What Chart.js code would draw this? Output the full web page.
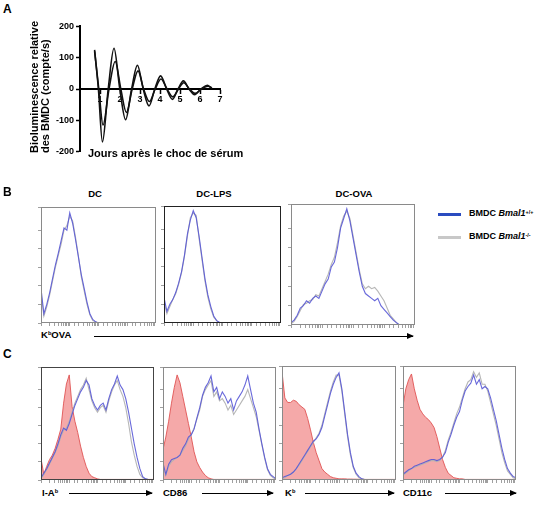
<!DOCTYPE html>
<html>
<head>
<meta charset="utf-8">
<script src="https://cdn.jsdelivr.net/npm/chart.js@4.4.1/dist/chart.umd.min.js"></script>
<style>
  body { margin: 0; background: #fff; font-family: "Liberation Sans", Arial, sans-serif; color: #000; }
  #page { position: relative; width: 551px; height: 508px; overflow: hidden; }
  canvas { position: absolute; }
  .lbl { position: absolute; font-weight: bold; white-space: nowrap; line-height: 1; }
  .lbl sup { font-size: 60%; vertical-align: 0.45em; }
  .panel { font-size: 12px; }
  .title { font-size: 9.5px; width: 60px; text-align: center; }
  .arrow { position: absolute; height: 0; border-top: 1.5px solid #000; }
  .arrow:after { content: ""; position: absolute; right: -1px; top: -4.5px; border-left: 7px solid #000; border-top: 3.5px solid transparent; border-bottom: 3.5px solid transparent; }
  .key { position: absolute; width: 23px; height: 2.5px; }
</style>
</head>
<body>
<div id="page">
  <!-- panel A -->
  <div class="lbl panel" style="left:3px;top:3px;">A</div>
  <canvas id="chartA" width="180" height="140" style="left:50px;top:19px;"></canvas>
  <div class="lbl" style="left:29px;top:153px;font-size:11px;line-height:11px;transform:rotate(-90deg);transform-origin:left top;">Bioluminescence relative<br>des BMDC (compte/s)</div>
  <div class="lbl" style="left:88px;top:148px;font-size:11px;">Jours après le choc de sérum</div>

  <!-- panel B -->
  <div class="lbl panel" style="left:3px;top:186px;">B</div>
  <div class="lbl title" style="left:65px;top:189px;">DC</div>
  <div class="lbl title" style="left:184px;top:189px;">DC-LPS</div>
  <div class="lbl title" style="left:324px;top:189px;">DC-OVA</div>
  <canvas id="bDC" width="118" height="119" style="left:38px;top:207px;"></canvas>
  <canvas id="bLPS" width="120" height="120" style="left:161px;top:206px;"></canvas>
  <canvas id="bOVA" width="127" height="124" style="left:288px;top:204px;"></canvas>
  <div class="key" style="left:438px;top:213px;background:#2a4cc0;"></div>
  <div class="lbl" style="left:469px;top:209px;font-size:9px;">BMDC <i>Bmal1</i><sup>+/+</sup></div>
  <div class="key" style="left:438px;top:236px;background:#c8c8c8;"></div>
  <div class="lbl" style="left:469px;top:232px;font-size:9px;">BMDC <i>Bmal1</i><sup>-/-</sup></div>
  <div class="lbl" style="left:41px;top:330px;font-size:9.5px;">K<sup>b</sup>OVA</div>
  <div class="arrow" style="left:94px;top:336px;width:319px;"></div>

  <!-- panel C -->
  <div class="lbl panel" style="left:3px;top:348px;">C</div>
  <canvas id="cIA" width="116" height="116" style="left:38px;top:367px;"></canvas>
  <canvas id="cCD86" width="116" height="116" style="left:160px;top:367px;"></canvas>
  <canvas id="cKb" width="117" height="117" style="left:279px;top:366px;"></canvas>
  <canvas id="cCD11c" width="116" height="117" style="left:400px;top:366px;"></canvas>
  <div class="lbl" style="left:42px;top:488px;font-size:9.5px;">I-A<sup>b</sup></div>
  <div class="arrow" style="left:69px;top:493px;width:83px;"></div>
  <div class="lbl" style="left:163px;top:488px;font-size:9.5px;">CD86</div>
  <div class="arrow" style="left:202px;top:493px;width:71px;"></div>
  <div class="lbl" style="left:285px;top:488px;font-size:9.5px;">K<sup>b</sup></div>
  <div class="arrow" style="left:305px;top:493px;width:89px;"></div>
  <div class="lbl" style="left:403px;top:488px;font-size:9.5px;">CD11c</div>
  <div class="arrow" style="left:445px;top:493px;width:71px;"></div>
</div>

<script>
// panel A: bioluminescence after serum shock (two traces)
const daysBig = [0.73, 0.92, 1.12, 1.41, 1.70, 1.99, 2.28, 2.58, 2.87, 3.16, 3.45, 3.74, 4.03, 4.33, 4.62, 4.90, 5.17, 5.45, 5.73, 6.05, 6.37, 6.55];
const lumBig = [125, 0, -169, 0, 130, 0, -98, 0, 76, 0, -54, 0, 42, 0, -33, 0, 26, 0, -18, 0, 12, 4];
const daysSmall = [0.73, 0.94, 1.15, 1.45, 1.76, 2.04, 2.32, 2.61, 2.90, 3.18, 3.47, 3.76, 4.05, 4.35, 4.64, 4.92, 5.19, 5.47, 5.75, 6.07, 6.40, 6.60];
const lumSmall = [120, 0, -115, 0, 88, 0, -75, 0, 58, 0, -40, 0, 32, 0, -25, 0, 20, 0, -14, 0, 9, 3];
const yTicksA = [-200, -100, 0, 100, 200];
const xTicksA = [1, 2, 3, 4, 5, 6, 7];

// histogram channel, in decades (10^0 .. 10^4)
const decades = [0, 0.1, 0.2, 0.3, 0.4, 0.5, 0.6, 0.7, 0.8, 0.9, 1.0, 1.1, 1.2, 1.3, 1.4, 1.5, 1.6, 1.7, 1.8, 1.9, 2.0,
                 2.1, 2.2, 2.3, 2.4, 2.5, 2.6, 2.7, 2.8, 2.9, 3.0, 3.1, 3.2, 3.3, 3.4, 3.5, 3.6, 3.7, 3.8, 3.9, 4.0];

// panel B: KbOVA
const dcWT  = [30, 8, 16, 26, 38, 50, 60, 71, 82, 80, 95, 86, 72, 57, 42, 30, 18, 8, 3, 1, 0, 0, 0, 0, 0, 0, 0, 0, 0, 0, 0, 0, 0, 0, 0, 0, 0, 0, 0, 0, 0];
const dcKO  = [26, 6, 14, 24, 36, 48, 58, 68, 80, 84, 92, 88, 74, 58, 40, 28, 16, 7, 2, 1, 0, 0, 0, 0, 0, 0, 0, 0, 0, 0, 0, 0, 0, 0, 0, 0, 0, 0, 0, 0, 0];
const lpsWT = [22, 10, 16, 20, 26, 34, 44, 58, 76, 88, 96, 90, 74, 56, 38, 24, 14, 6, 2, 0.5, 0, 0, 0, 0, 0, 0, 0, 0, 0, 0, 0, 0, 0, 0, 0, 0, 0, 0, 0, 0, 0];
const lpsKO = [18, 8, 14, 20, 25, 33, 43, 57, 74, 90, 94, 92, 72, 54, 36, 22, 12, 5, 2, 0.5, 0, 0, 0, 0, 0, 0, 0, 0, 0, 0, 0, 0, 0, 0, 0, 0, 0, 0, 0, 0, 0];
const ovaWT = [2, 4, 8, 14, 16, 20, 18, 22, 24, 22, 28, 34, 38, 48, 52, 64, 80, 88, 96, 86, 72, 58, 44, 32, 26, 24, 22, 20, 22, 16, 13, 10, 7, 4, 2, 0, 0, 0, 0, 0, 0];
const ovaKO = [1, 3, 7, 12, 17, 18, 20, 21, 25, 24, 30, 36, 42, 50, 56, 68, 82, 90, 94, 88, 74, 60, 46, 34, 30, 32, 30, 31, 28, 24, 20, 14, 8, 5, 2, 0, 0, 0, 0, 0, 0];

// panel C: surface markers (isotype in red)
const iaIso = [19, 5, 12, 18, 22, 28, 36, 45, 68, 85, 93, 65, 52, 42, 30, 20, 12, 6, 3, 2, 1, 0.5, 0.5, 0.5, 0.5, 0.5, 0.5, 0.5, 0.5, 0.5, 0.5, 0.5, 0.5, 0.5, 0.5, 0.5, 0.5, 0.5, 0.5, 0.5, 0.5];
const iaWT  = [2, 6, 10, 15, 20, 25, 32, 40, 46, 44, 50, 58, 66, 72, 78, 82, 88, 84, 72, 66, 62, 66, 68, 62, 72, 80, 85, 92, 84, 80, 72, 60, 46, 32, 20, 10, 3, 1, 0.5, 0.5, 0.5];
const iaKO  = [1, 5, 9, 14, 19, 24, 30, 38, 44, 46, 52, 60, 68, 74, 80, 84, 90, 80, 70, 64, 60, 64, 66, 60, 70, 78, 84, 88, 80, 74, 64, 50, 34, 22, 12, 5, 2, 1, 0.5, 0.5, 0.5];
const cd86Iso = [27, 38, 52, 68, 82, 93, 86, 74, 62, 50, 38, 25, 16, 11, 7, 4, 2, 1, 0.5, 0.5, 0.5, 0.5, 0.5, 0.5, 0.5, 0.5, 0.5, 0.5, 0.5, 0.5, 0.5, 0.5, 0.5, 0.5, 0.5, 0.5, 0.5, 0.5, 0.5, 0.5, 0.5];
const cd86WT  = [15, 5, 14, 18, 19, 20, 22, 28, 32, 38, 40, 45, 55, 64, 75, 82, 86, 92, 78, 82, 72, 78, 74, 68, 72, 62, 70, 74, 78, 84, 92, 80, 68, 60, 45, 32, 20, 10, 5, 3, 1];
const cd86KO  = [12, 4, 12, 16, 18, 20, 22, 26, 30, 36, 40, 46, 54, 62, 74, 80, 84, 88, 74, 78, 70, 72, 68, 62, 66, 58, 62, 66, 70, 74, 80, 72, 64, 56, 44, 31, 19, 9, 4, 2, 1];
const kbIso = [95, 72, 68, 68, 70, 69, 66, 64, 62, 54, 44, 33, 24, 17, 10, 7, 5, 3, 2, 1.5, 1, 1, 1, 0.8, 0.8, 0.7, 0.7, 0.6, 0.6, 0.5, 0.5, 0.5, 0.5, 0.5, 0.5, 0.5, 0.5, 0.5, 0.5, 0.5, 0.5];
const kbWT  = [2, 3, 4, 5, 7, 10, 14, 18, 22, 26, 30, 34, 36, 40, 46, 56, 66, 76, 84, 90, 94, 80, 60, 40, 24, 12, 6, 3, 1, 0.5, 0.5, 0.5, 0.5, 0.5, 0.5, 0.5, 0.5, 0.5, 0.5, 0.5, 0.5];
const kbKO  = [1, 2, 4, 5, 7, 10, 13, 17, 21, 25, 29, 33, 37, 41, 48, 58, 68, 78, 86, 92, 92, 78, 58, 38, 22, 11, 5, 2, 1, 0.5, 0.5, 0.5, 0.5, 0.5, 0.5, 0.5, 0.5, 0.5, 0.5, 0.5, 0.5];
const cd11cIso = [65, 80, 88, 93, 80, 70, 62, 58, 55, 53, 50, 46, 38, 28, 18, 11, 6, 4, 2, 1.5, 1, 1, 0.5, 0.5, 0.5, 0.5, 0.5, 0.5, 0.5, 0.5, 0.5, 0.5, 0.5, 0.5, 0.5, 0.5, 0.5, 0.5, 0.5, 0.5, 0.5];
const cd11cWT  = [5, 7, 9, 10, 12, 13, 14, 15, 16, 17, 18, 18, 17, 18, 20, 24, 33, 40, 48, 55, 60, 70, 78, 82, 85, 92, 84, 88, 80, 82, 80, 72, 62, 52, 40, 28, 18, 10, 6, 3, 2];
const cd11cKO  = [4, 6, 8, 10, 11, 12, 13, 14, 15, 16, 17, 17, 16, 17, 20, 26, 35, 42, 50, 58, 64, 72, 80, 86, 88, 95, 90, 94, 84, 84, 78, 68, 58, 48, 36, 24, 15, 8, 5, 2, 1];

const FONT = '"Liberation Sans", Arial, sans-serif';
const BLUE = 'rgba(88,88,214,0.9)';
const GRAY = 'rgba(178,178,178,0.95)';
const RED_FILL = 'rgba(238,112,112,0.6)';
const RED_LINE = 'rgba(224,84,84,0.9)';

// frame around each histogram
const boxBorder = {
    id: 'boxBorder',
    afterDatasetsDraw(chart, args, opts) {
        const { ctx, chartArea } = chart;
        ctx.save();
        ctx.strokeStyle = opts.color;
        ctx.lineWidth = 1;
        ctx.strokeRect(chartArea.left + 0.5, chartArea.top + 0.5, chartArea.width - 1, chartArea.height - 1);
        ctx.restore();
    }
};

function toPoints(xs, ys) {
    return xs.map((x, i) => ({ x: x, y: ys[i] }));
}

function initializeChartA() {
    const config = {
        type: 'line',
        data: {
            datasets: [
                { data: toPoints(daysBig, lumBig), borderColor: '#111', borderWidth: 1.6 },
                { data: toPoints(daysSmall, lumSmall), borderColor: '#111', borderWidth: 1.6 }
            ]
        },
        options: {
            responsive: false,
            animation: false,
            events: [],
            layout: { padding: { top: 6, right: 10, bottom: 6, left: 0 } },
            elements: { point: { radius: 0 }, line: { cubicInterpolationMode: 'monotone' } },
            plugins: { legend: { display: false }, tooltip: { enabled: false } },
            scales: {
                x: {
                    type: 'linear',
                    position: { y: 0 },
                    min: 0,
                    max: 7,
                    afterBuildTicks: s => { s.ticks = xTicksA.map(v => ({ value: v })); },
                    ticks: { color: '#000', font: { family: FONT, size: 9, weight: 'bold' }, padding: 1 },
                    grid: { drawOnChartArea: false, tickLength: 4, tickColor: '#000', tickWidth: 1.5 },
                    border: { color: '#000', width: 2 }
                },
                y: {
                    min: -200,
                    max: 200,
                    afterFit: s => { s.width = 30; },
                    afterBuildTicks: s => { s.ticks = yTicksA.map(v => ({ value: v })); },
                    ticks: { color: '#000', font: { family: FONT, size: 9, weight: 'bold' }, padding: 2 },
                    grid: { drawOnChartArea: false, tickLength: 4, tickColor: '#000', tickWidth: 1.5 },
                    border: { color: '#000', width: 2 }
                }
            }
        }
    };
    new Chart(document.getElementById('chartA').getContext('2d'), config);
}

function initializeHistogram(id, wt, ko, iso, frameColor) {
    const datasets = [
        { data: toPoints(decades.map(d => Math.pow(10, d)), wt), borderColor: BLUE, borderWidth: 1.1 },
        { data: toPoints(decades.map(d => Math.pow(10, d)), ko), borderColor: GRAY, borderWidth: 1.1 }
    ];
    if (iso) {
        datasets.push({
            data: toPoints(decades.map(d => Math.pow(10, d)), iso),
            borderColor: RED_LINE,
            backgroundColor: RED_FILL,
            borderWidth: 1,
            fill: 'origin'
        });
    }
    const config = {
        type: 'line',
        data: { datasets: datasets },
        plugins: [boxBorder],
        options: {
            responsive: false,
            animation: false,
            events: [],
            layout: { padding: 0 },
            elements: { point: { radius: 0 }, line: { tension: 0 } },
            plugins: {
                legend: { display: false },
                tooltip: { enabled: false },
                boxBorder: { color: frameColor }
            },
            scales: {
                x: {
                    type: 'logarithmic',
                    min: 1,
                    max: 10000,
                    afterFit: s => { s.height = 3; },
                    ticks: { display: false },
                    border: { display: false },
                    grid: { drawOnChartArea: false, tickLength: 3, tickColor: '#888', tickWidth: 0.8 }
                },
                y: {
                    min: 0,
                    max: 100,
                    afterFit: s => { s.width = 3; },
                    ticks: { display: false, stepSize: 16 },
                    border: { display: false },
                    grid: { drawOnChartArea: false, tickLength: 3, tickColor: '#888', tickWidth: 0.8 }
                }
            }
        }
    };
    new Chart(document.getElementById(id).getContext('2d'), config);
}

initializeChartA();
initializeHistogram('bDC', dcWT, dcKO, null, '#8a8a8a');
initializeHistogram('bLPS', lpsWT, lpsKO, null, '#222');
initializeHistogram('bOVA', ovaWT, ovaKO, null, '#8a8a8a');
initializeHistogram('cIA', iaWT, iaKO, iaIso, '#444');
initializeHistogram('cCD86', cd86WT, cd86KO, cd86Iso, '#8a8a8a');
initializeHistogram('cKb', kbWT, kbKO, kbIso, '#8a8a8a');
initializeHistogram('cCD11c', cd11cWT, cd11cKO, cd11cIso, '#8a8a8a');
</script>
</body>
</html>
